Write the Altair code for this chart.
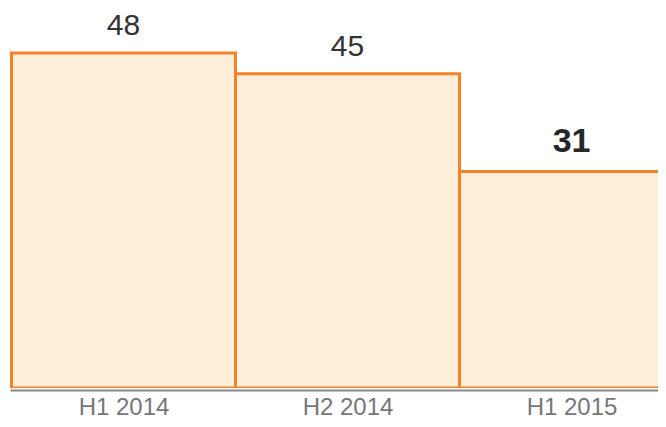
import altair as alt
import pandas as pd
import json

periods = ["H1 2014", "H2 2014", "H1 2015"]
values = [48, 45, 31]
highlight = [False, False, True]

df = pd.DataFrame({"period": periods, "value": values, "hl": highlight})
df["idx"] = range(len(periods))

label_expr = json.dumps(periods) + "[floor(datum.value)]"

xs = alt.Scale(domain=[-0.0067, 2.886], nice=False, zero=False)
ys = alt.Scale(domain=[0, 54.15], nice=False)

base = alt.Chart(df).transform_calculate(x1="datum.idx", x2="datum.idx + 1", xm="datum.idx + 0.5")

bars = base.mark_rect(fill="#FDEEDA", stroke="#F5822A", strokeWidth=3, clip=True).encode(
    x=alt.X("x1:Q", scale=xs,
            axis=alt.Axis(title=None, values=[0.5, 1.5, 2.5], labelExpr=label_expr,
                          ticks=False, grid=False, domainColor="#888888", domainWidth=2,
                          offset=2, labelColor="#777777", labelFontSize=24,
                          labelFont="Liberation Sans", labelPadding=24, labelBaseline="alphabetic",
                          labelFlush=False, labelOverlap=False)),
    x2="x2:Q",
    y=alt.Y("value:Q", scale=ys, axis=None),
    y2=alt.datum(0),
)

txt_norm = base.transform_filter("!datum.hl").mark_text(
    baseline="alphabetic", dy=-18, fontSize=30, font="Liberation Sans", color="#333333"
).encode(x=alt.X("xm:Q", scale=xs), y=alt.Y("value:Q", scale=ys), text="value:Q")

txt_hl = base.transform_filter("datum.hl").mark_text(
    baseline="alphabetic", dy=-20, fontSize=34, fontWeight="bold", font="Liberation Sans", color="#262626"
).encode(x=alt.X("xm:Q", scale=xs), y=alt.Y("value:Q", scale=ys), text="value:Q")

chart = alt.layer(bars, txt_norm, txt_hl).properties(
    width=648, height=378,
    padding={"left": 2, "top": 2, "right": 0, "bottom": 31},
    autosize=alt.AutoSizeParams(type="none"),
).configure_view(stroke=None)

chart.save("out.html", embed_options={"renderer": "svg", "actions": False})
